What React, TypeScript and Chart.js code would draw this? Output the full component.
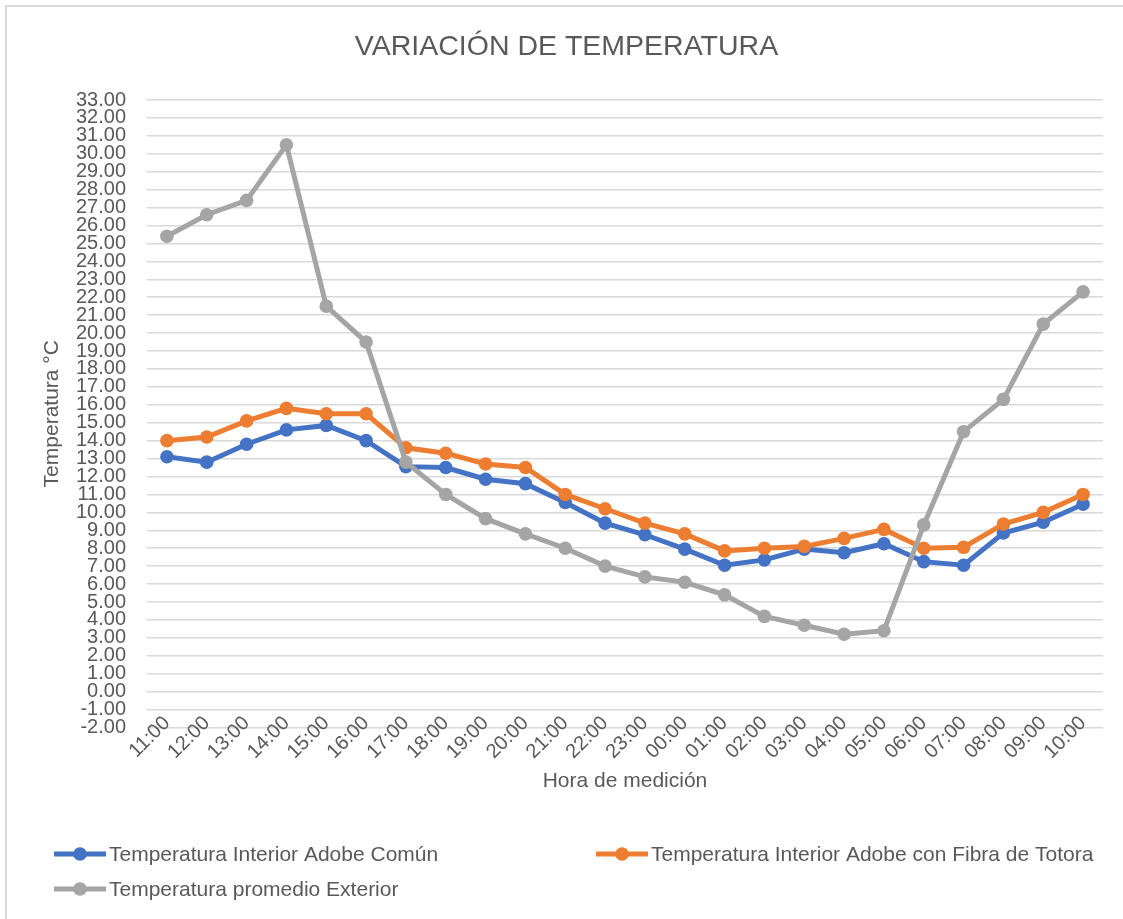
import React, { useEffect, useRef } from 'react';
import { Chart, registerables } from 'chart.js';

Chart.register(...registerables);

// ---- data ----
const hours = [
  '11:00', '12:00', '13:00', '14:00', '15:00', '16:00', '17:00', '18:00',
  '19:00', '20:00', '21:00', '22:00', '23:00', '00:00', '01:00', '02:00',
  '03:00', '04:00', '05:00', '06:00', '07:00', '08:00', '09:00', '10:00',
];
const adobeComun = [
  13.1, 12.8, 13.8, 14.6, 14.85, 14.0, 12.55, 12.5,
  11.85, 11.6, 10.55, 9.4, 8.75, 7.95, 7.05, 7.35,
  7.95, 7.75, 8.25, 7.25, 7.05, 8.85, 9.45, 10.45,
];
const adobeTotora = [
  14.0, 14.2, 15.1, 15.8, 15.5, 15.5, 13.6, 13.3,
  12.7, 12.5, 11.0, 10.2, 9.4, 8.8, 7.85, 8.0,
  8.1, 8.55, 9.05, 8.0, 8.05, 9.35, 10.0, 11.0,
];
const exterior = [
  25.4, 26.6, 27.4, 30.5, 21.5, 19.5, 12.8, 11.0,
  9.65, 8.8, 8.0, 7.0, 6.4, 6.1, 5.4, 4.2,
  3.7, 3.2, 3.4, 9.3, 14.5, 16.3, 20.5, 22.3,
];
const seriesNames = [
  'Temperatura Interior Adobe Común',
  'Temperatura Interior Adobe con Fibra de Totora',
  'Temperatura promedio Exterior',
];
const seriesColors = ['#4472C4', '#ED7D31', '#A5A5A5'];
const yMin = -2;
const yMax = 33;
const yStep = 1;
const chartTitle = 'VARIACIÓN DE TEMPERATURA';
const xTitle = 'Hora de medición';
const yTitle = 'Temperatura °C';

const W = 1123;
const H = 919;
const TEXT = '#595959';
const GRID = '#D9D9D9';
const FAMILY = '"Liberation Sans", Arial, sans-serif';

export default function App() {
  const ref = useRef<HTMLCanvasElement | null>(null);

  useEffect(() => {
    if (!ref.current) return;
    const titleSize = 28.5;
    const axisTitleSize = 21;
    const tickSize = 20;
    const legendSize = 21;
    const lineW = 5;
    const pointR = 6.8;

    const plotTop = 100;
    const plotBottom = 727.5;
    const plotLeft = 147;
    const layoutLeft = 30;
    const layoutRight = 20;
    const xScaleBottom = 797;

    const tLH = titleSize * 1.2;
    const aLH = axisTitleSize * 1.2;

    // Rotated category labels, positioned from the library's x scale
    const xLabelsPlugin = {
      id: 'xLabels',
      afterDraw(chart: any) {
        const ctx = chart.ctx;
        const scale = chart.scales.x;
        ctx.save();
        ctx.fillStyle = TEXT;
        ctx.font = `${tickSize}px ${FAMILY}`;
        ctx.textAlign = 'right';
        ctx.textBaseline = 'middle';
        scale.ticks.forEach((t: any, i: number) => {
          const x = scale.getPixelForTick(i);
          const y = scale.top - 7.5;
          ctx.save();
          ctx.translate(x, y);
          ctx.rotate(-Math.PI / 4);
          ctx.fillText(String(scale.getLabelForValue(t.value)), 0, 0);
          ctx.restore();
        });
        ctx.restore();
      },
    };

    const legendPlugin = {
      id: 'customLegend',
      afterDraw(chart: any) {
        const ctx = chart.ctx;
        const items = [
          { x: 54, y: 854 },
          { x: 596, y: 854 },
          { x: 54, y: 889 },
        ];
        ctx.save();
        items.forEach((it, i) => {
          const col = seriesColors[i];
          ctx.strokeStyle = col;
          ctx.fillStyle = col;
          ctx.lineWidth = lineW;
          ctx.beginPath();
          ctx.moveTo(it.x, it.y);
          ctx.lineTo(it.x + 52, it.y);
          ctx.stroke();
          ctx.beginPath();
          ctx.arc(it.x + 26, it.y, pointR, 0, Math.PI * 2);
          ctx.fill();
          ctx.fillStyle = TEXT;
          ctx.font = `${legendSize}px ${FAMILY}`;
          ctx.textBaseline = 'middle';
          ctx.textAlign = 'left';
          ctx.fillText(seriesNames[i], it.x + 55, it.y + 1);
        });
        ctx.restore();
      },
    };

    const mk = (i: number, data: number[], order: number) => ({
      label: seriesNames[i],
      data,
      borderColor: seriesColors[i],
      backgroundColor: seriesColors[i],
      pointBackgroundColor: seriesColors[i],
      pointBorderColor: seriesColors[i],
      pointBorderWidth: 0,
      pointRadius: pointR,
      borderWidth: lineW,
      tension: 0,
      fill: false,
      order,
    });

    const chart = new Chart(ref.current, {
      type: 'line',
      data: {
        labels: hours,
        datasets: [mk(0, adobeComun, 2), mk(1, adobeTotora, 1), mk(2, exterior, 0)],
      },
      options: {
        animation: false,
        responsive: false,
        devicePixelRatio: 1,
        layout: {
          padding: { left: layoutLeft, right: layoutRight, top: 0, bottom: H - xScaleBottom },
        },
        plugins: {
          legend: { display: false },
          tooltip: { enabled: false },
          title: {
            display: true,
            text: chartTitle,
            color: TEXT,
            font: { family: FAMILY, size: titleSize, weight: 'normal' },
            padding: { top: 47 - tLH / 2, bottom: plotTop - 47 - tLH / 2 },
          },
        },
        scales: {
          x: {
            offset: true,
            grid: { display: false, drawTicks: false },
            border: { display: false },
            ticks: { display: false, autoSkip: false },
            title: {
              display: true,
              text: xTitle,
              color: TEXT,
              font: { family: FAMILY, size: axisTitleSize },
              padding: { top: 0, bottom: Math.max(0, xScaleBottom - 781 - aLH / 2) },
            },
            afterFit(scale: any) {
              scale.height = xScaleBottom - plotBottom;
            },
          },
          y: {
            min: yMin,
            max: yMax,
            grid: { color: GRID, lineWidth: 1.5, drawTicks: false },
            border: { display: false },
            ticks: {
              stepSize: yStep,
              autoSkip: false,
              color: TEXT,
              font: { family: FAMILY, size: tickSize },
              padding: 21,
              callback: (v: any) => Number(v).toFixed(2),
            },
            title: {
              display: true,
              text: yTitle,
              color: TEXT,
              font: { family: FAMILY, size: axisTitleSize },
              padding: { top: Math.max(0, 52 - layoutLeft - aLH / 2), bottom: 0 },
            },
            afterFit(scale: any) {
              scale.width = plotLeft - layoutLeft;
            },
          },
        },
      },
      plugins: [xLabelsPlugin, legendPlugin],
    } as any);

    return () => chart.destroy();
  }, []);

  return (
    <div style={{ position: 'absolute', left: 0, top: 0, width: W, height: H, overflow: 'hidden', background: '#fff' }}>
      <div
        style={{
          position: 'absolute',
          left: 5,
          top: 5,
          width: 1300,
          height: 1100,
          borderLeft: `2px solid ${GRID}`,
          borderTop: `2px solid ${GRID}`,
        }}
      />
      <canvas ref={ref} width={W} height={H} style={{ position: 'absolute', left: 0, top: 0, width: W, height: H }} />
    </div>
  );
}
